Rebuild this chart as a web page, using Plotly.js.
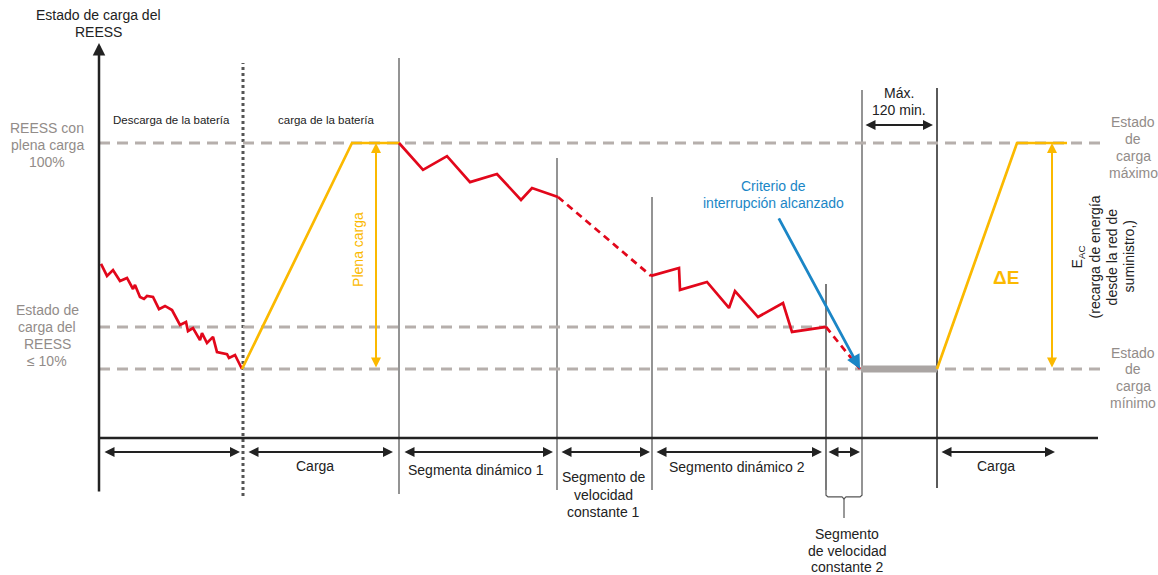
<!DOCTYPE html>
<html>
<head>
<meta charset="utf-8">
<script src="https://cdn.plot.ly/plotly-3.0.1.min.js"></script>
<style>html,body{margin:0;padding:0;background:#fff}#chart{width:1158px;height:575px}</style>
</head>
<body>
<div id="chart"></div>
<script>
// ---------- data (time in arbitrary units, SOC in % between min (0) and max (100)) ----------
const dischargeT   = [0.2, 0.8, 1.4, 2.1, 2.8, 3.4, 3.6, 4.1, 4.5, 4.8, 5.4, 6.0, 6.6, 7.3, 8.1, 8.7, 8.9, 9.4, 10.1, 10.3, 10.8, 11.4, 11.8, 12.8, 13.0, 13.6, 14.3];
const dischargeSoc = [46.5, 41.2, 43.8, 38.9, 40.3, 35.4, 37.2, 31.9, 31.0, 32.3, 31.9, 26.5, 27.9, 26.1, 19.5, 20.8, 16.8, 18.1, 12.8, 15.9, 11.5, 14.2, 7.5, 6.6, 4.9, 6.2, 0];
const charge1T   = [14.3, 25.3, 30.1];
const charge1Soc = [0, 100, 100];
const dyn1T   = [30.0, 32.4, 34.8, 37.1, 39.8, 42.2, 43.3, 45.9];
const dyn1Soc = [100, 88.1, 94.2, 82.7, 86.3, 74.8, 80.1, 76.1];
const cst1T   = [45.9, 55.2];
const cst1Soc = [76.1, 41.2];
const dyn2T   = [55.2, 58.0, 58.1, 60.8, 63.0, 63.6, 65.9, 68.4, 69.3, 72.7];
const dyn2Soc = [41.2, 44.7, 35.0, 38.5, 27.0, 34.5, 23.0, 29.2, 16.4, 18.6];
const cst2T   = [72.7, 76.1];
const cst2Soc = [18.6, 0];
const soakT   = [76.2, 83.8];
const soakSoc = [0, 0];
const charge2T   = [83.8, 91.8, 96.8];
const charge2Soc = [0, 100, 100];
const criterionT   = [67.9, 76.1];
const criterionSoc = [67.3, 0];

const levelMax = 100, levelLow = 18.6, levelMin = 0;
const phaseBounds = [14.4, 30.0, 45.8, 55.3, 72.7, 76.3, 83.8];
const phaseTops   = [135.4, 137.6, 93.4, 76.1, 37.6, 123.5, 124.3];

const segStarts = [0.4, 14.8, 30.4, 46.1, 55.6, 72.8, 84.1];
const segEnds   = [14.1, 29.4, 45.4, 55.1, 72.3, 76.1, 95.6];
const segLabels = ['', 'Carga', 'Segmenta dinámico 1', ['Segmento de', 'velocidad', 'constante 1'], 'Segmento dinámico 2', ['Segmento', 'de velocidad', 'constante 2'], 'Carga'];

// ---------- styles ----------
const RED = '#e2071b', YEL = '#fbb900', BLUE = '#1b86c6', GDASH = '#b6afac', GTXT = '#928c89', GLINE = '#707070';
const FONT = 'Liberation Sans, Arial, sans-serif';
const PX_Y = 2.26;  // pixels per SOC unit
const PX_X = 10;    // pixels per time unit

const traces = [];
function line(x, y, color, width, dash) {
  traces.push({x: x, y: y, type: 'scatter', mode: 'lines', hoverinfo: 'skip',
    line: {color: color, width: width, dash: dash || 'solid'}});
}
// horizontal reference levels
line([0, 100.6], [levelMax, levelMax], GDASH, 3, '11px,7px');
line([0, 72.7], [levelLow, levelLow], GDASH, 3, '11px,7px');
line([0, 100.6], [levelMin, levelMin], GDASH, 3, '11px,7px');
// soak bar
line(soakT, soakSoc, '#aaa5a3', 7);
// SOC curves
line(dischargeT, dischargeSoc, RED, 2.7);
line(charge1T, charge1Soc, YEL, 2.7);
line(dyn1T, dyn1Soc, RED, 2.7);
line(cst1T, cst1Soc, RED, 2.7, '7px,5px');
line(dyn2T, dyn2Soc, RED, 2.7);
line(cst2T, cst2Soc, RED, 2.7, '7px,5px');
line(charge2T, charge2Soc, YEL, 2.7);

// bracket under constant-speed segment 2
const brY0 = -53.5, brY1 = -56.6, brTip = -65.9;
const brL = phaseBounds[4], brR = phaseBounds[5], brC = (brL + brR) / 2;
traces.push({x: [brL, brL, brL + 0.2, brC - 0.2, brC, brC + 0.2, brR - 0.2, brR, brR, null, brC, brC],
  y: [brY0, brY1 + 0.8, brY1, brY1, brY1 - 0.9, brY1, brY1, brY1 + 0.8, brY0, null, brY1 - 0.9, brTip],
  type: 'scatter', mode: 'lines', hoverinfo: 'skip', line: {color: '#555', width: 1.2}});

// ---------- shapes: vertical phase boundaries, axes ----------
const shapes = [];
const vStyle = [
  {color: '#555', width: 3, dash: 'dot', bottom: -56.2},
  {color: GLINE, width: 1.5, bottom: -55.3},
  {color: GLINE, width: 1.5, bottom: -53.5},
  {color: GLINE, width: 1.5, bottom: -53.5},
  {color: '#222', width: 1.2, bottom: brY0},
  {color: GLINE, width: 1.5, bottom: brY0},
  {color: '#5a5a5a', width: 2, bottom: -52.7}
];
phaseBounds.forEach((t, i) => {
  const s = vStyle[i];
  shapes.push({type: 'line', layer: 'below', xref: 'x', yref: 'y', x0: t, x1: t, y0: s.bottom, y1: phaseTops[i],
    line: {color: s.color, width: s.width, dash: s.dash || 'solid'}});
});
// x axis
shapes.push({type: 'line', xref: 'x', yref: 'y', x0: 0, x1: 99.9, y0: -30.5, y1: -30.5, line: {color: '#222', width: 2.5}});

// ---------- annotations ----------
const ann = [];
function txt(x, y, text, size, color, extra) {
  ann.push(Object.assign({x: x, y: y, xref: 'x', yref: 'y', text: text, showarrow: false,
    font: {family: FONT, size: size, color: color}, xanchor: 'center', yanchor: 'middle'}, extra || {}));
}
// multi-line text with tighter line spacing (spacing given in pixels)
function multi(x, yc, lines, size, color, spacing) {
  const n = lines.length;
  lines.forEach((l, i) => {
    txt(x, yc - (i - (n - 1) / 2) * spacing / PX_Y, l, size, color);
  });
}
function multiRot(xc, y, lines, size, color, spacing) {
  const n = lines.length;
  lines.forEach((l, i) => {
    txt(xc + (i - (n - 1) / 2) * spacing / PX_X, y, l, size, color, {textangle: -90});
  });
}
function arrow(x0, y0, x1, y1, color, width, both) {
  ann.push({x: x1, y: y1, ax: x0, ay: y0, xref: 'x', yref: 'y', axref: 'x', ayref: 'y', text: '',
    showarrow: true, arrowcolor: color, arrowwidth: width, arrowhead: 2, arrowsize: 1,
    startarrowhead: 2, startarrowsize: 1, arrowside: both ? 'end+start' : 'end', standoff: 0, startstandoff: 0});
}
// y axis with arrow
arrow(0, -54.9, 0, 144.2, '#222', 2.5, false);
// bottom segment arrows and labels
segStarts.forEach((s, i) => {
  arrow(s, -36.7, segEnds[i], -36.7, '#222', 2, true);
});
const FS = 14;
txt(21.6, -42.9, segLabels[1], FS, '#222');
txt(37.7, -44.7, segLabels[2], FS, '#222');
multi(50.4, -55.6, segLabels[3], FS, '#222', 17.5);
txt(63.8, -43.4, segLabels[4], FS, '#222');
txt(89.7, -42.9, segLabels[6], FS, '#222');
multi(74.8, -80.5, segLabels[5], FS, '#222', 16.5);

// yellow energy arrows
arrow(27.7, levelMin, 27.7, levelMax, YEL, 2, true);
arrow(95.3, levelMin, 95.3, levelMax, YEL, 2, true);
// max 120 min arrow
arrow(76.5, 108.0, 83.4, 108.0, '#222', 2, true);
// criterion arrow
arrow(criterionT[0], criterionSoc[0], criterionT[1], criterionSoc[1], BLUE, 2.8, false);

// texts
multi(-0.1, 152.9, ['Estado de carga del', 'REESS'], FS, '#222', 17);
txt(7.2, 110.2, 'Descarga de la batería', 11.5, '#222');
txt(22.7, 110.2, 'carga de la batería', 11.5, '#222');
multi(-5.2, 99.1, ['REESS con', 'plena carga', '100%'], FS, GTXT, 17);
multi(-5.2, 14.8, ['Estado de', 'carga del', 'REESS', '≤ 10%'], FS, GTXT, 17);
txt(25.9, 52.7, 'Plena carga', FS, YEL, {textangle: -90});
multi(67.4, 77.2, ['Criterio de', 'interrupción alcanzado'], FS, BLUE, 17);
multi(80.0, 118.4, ['Máx.', '120 min.'], FS, '#222', 17);
multi(103.4, 98.0, ['Estado', 'de', 'carga', 'máximo'], FS, GTXT, 16.7);
multi(103.4, -3.8, ['Estado', 'de', 'carga', 'mínimo'], FS, GTXT, 16.7);
txt(90.7, 40.3, '<b>ΔE</b>', 19, YEL);
multiRot(100.4, 49.6, ['E<sub>AC</sub>', '(recarga de energía', 'desde la red de', 'suministro,)'], FS, '#222', 17);

const layout = {
  width: 1158, height: 575,
  margin: {l: 0, r: 0, t: 0, b: 0},
  paper_bgcolor: '#fff', plot_bgcolor: '#fff',
  showlegend: false,
  xaxis: {range: [-9.9, 105.9], visible: false, fixedrange: true},
  yaxis: {range: [-91.15, 163.27], visible: false, fixedrange: true},
  shapes: shapes,
  annotations: ann,
  font: {family: FONT}
};
Plotly.newPlot('chart', traces, layout, {displayModeBar: false, staticPlot: true});
</script>
</body>
</html>
